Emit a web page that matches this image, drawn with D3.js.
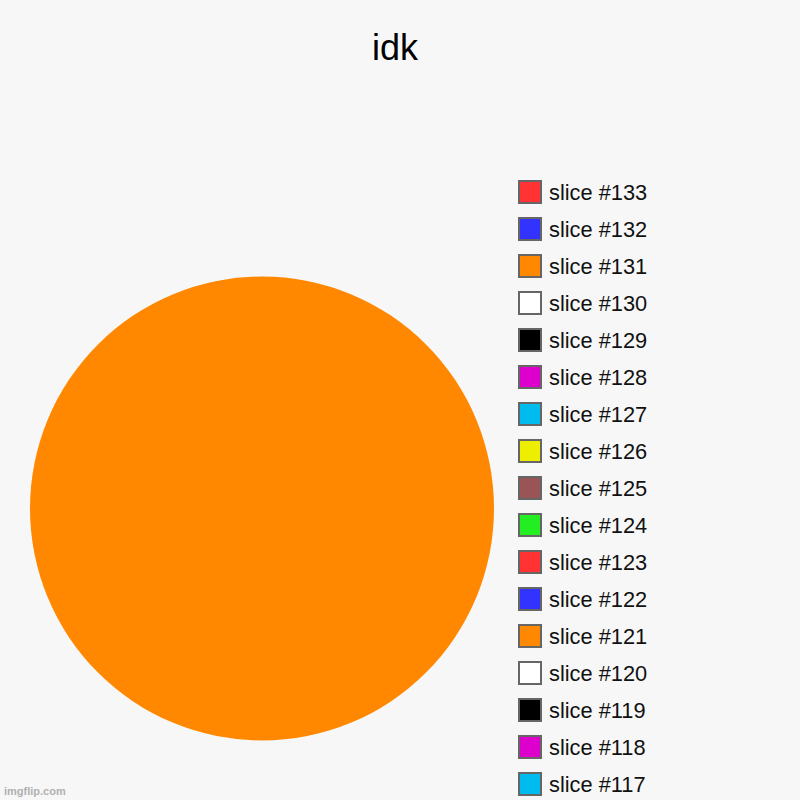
<!DOCTYPE html>
<html>
<head>
<meta charset="utf-8">
<script src="https://cdn.jsdelivr.net/npm/d3@7"></script>
<style>
  html, body { margin: 0; padding: 0; background: #f7f7f7; }
  svg { display: block; font-family: "Liberation Sans", Arial, sans-serif; }
</style>
</head>
<body>
<svg id="chart" width="800" height="800"></svg>
<script>
// slice labels as shown in the legend (top to bottom)
var labels = ["slice #133", "slice #132", "slice #131", "slice #130", "slice #129",
  "slice #128", "slice #127", "slice #126", "slice #125", "slice #124", "slice #123",
  "slice #122", "slice #121", "slice #120", "slice #119", "slice #118", "slice #117"];
// only one slice has any size, the rest are empty
var values = [0, 0, 0, 0, 0, 0, 0, 0, 0, 0, 0, 0, 100, 0, 0, 0, 0];
var colors = ["#ff3333", "#3333ff", "#ff8800", "#ffffff", "#000000",
  "#dd00cc", "#00bbee", "#eeee00", "#995555", "#22ee22", "#ff3333",
  "#3333ff", "#ff8800", "#ffffff", "#000000", "#dd00cc", "#00bbee"];

var svg = d3.select("#chart");

svg.append("text")
  .attr("x", 395).attr("y", 60)
  .attr("text-anchor", "middle")
  .attr("font-size", 36)
  .attr("fill", "#000")
  .text("idk");

// pie
var cx = 262, cy = 508.5, r = 232;
var pie = d3.pie().sort(null).value(d => d.v);
var arc = d3.arc().innerRadius(0).outerRadius(r);
var data = labels.map((l, i) => ({ label: l, v: values[i], c: colors[i] }));

var g = svg.append("g").attr("transform", "translate(" + cx + "," + cy + ")");
g.selectAll("path")
  .data(pie(data))
  .join("path")
  .attr("d", arc)
  .attr("fill", d => d.data.c);

// the faint seam where the circle starts and ends
g.append("line")
  .attr("x1", 0).attr("y1", 0).attr("x2", 0).attr("y2", -r)
  .attr("stroke", "#f58a10").attr("stroke-width", 0.8).attr("opacity", 0.6);

// legend
var y = d3.scalePoint().domain(labels).range([192, 784]);
var leg = svg.append("g").selectAll("g")
  .data(data)
  .join("g")
  .attr("transform", d => "translate(519," + y(d.label) + ")");

leg.append("rect")
  .attr("x", 0).attr("y", -11)
  .attr("width", 22).attr("height", 22)
  .attr("fill", d => d.c)
  .attr("stroke", "#666").attr("stroke-width", 2);

leg.append("text")
  .attr("x", 30).attr("y", 7.5)
  .attr("font-size", 21.8)
  .attr("fill", "#111")
  .text(d => d.label);

svg.append("text")
  .attr("x", 4).attr("y", 795)
  .attr("font-size", 11)
  .attr("font-weight", "bold")
  .attr("fill", "#b0b0b0")
  .text("imgflip.com");
</script>
</body>
</html>
